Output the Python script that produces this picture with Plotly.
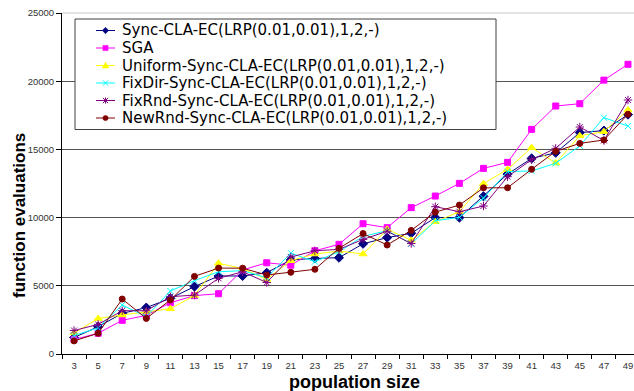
import plotly.graph_objects as go

# ---------------- data ----------------
population_size = ["3", "5", "7", "9", "11", "13", "15", "17", "19", "21", "23", "25",
                   "27", "29", "31", "33", "35", "37", "39", "41", "43", "45", "47", "49"]

sync_cla_ec = [1210, 2000, 2980, 3400, 4080, 4940, 5720, 5720, 5960, 6900, 7010, 7060,
               8080, 8530, 8850, 10000, 10000, 11560, 13190, 14340, 14750, 16230, 16380, 17550]
sga = [1060, 1520, 2470, 2830, 3760, 4280, 4420, 6160, 6690, 6510, 7570, 8040,
       9550, 9260, 10730, 11580, 12510, 13610, 14050, 16470, 18180, 18350, 20080, 21240]
uniform_sync = [1540, 2600, 2860, 3080, 3320, 4280, 6650, 6260, 5470, 6840, 7330, 7550,
                7330, 9140, 8340, 9700, 10430, 12490, 13540, 15130, 14000, 16000, 16300, 17890]
fixdir_sync = [1350, 1920, 3590, 2740, 4620, 5380, 6030, 6110, 5590, 7400, 6770, 7500,
               8620, 9040, 8080, 9770, 10020, 11430, 13370, 13420, 13980, 15260, 17330, 16710]
fixrnd_sync = [1720, 2170, 3170, 3170, 4200, 4320, 5550, 6030, 5240, 7110, 7570, 7670,
               8400, 9000, 8100, 10800, 10430, 10850, 13000, 14250, 15080, 16640, 15650, 18620]
newrnd_sync = [960, 1520, 4030, 2610, 3960, 5690, 6300, 6290, 5790, 5990, 6210, 7750,
               8830, 7990, 9060, 10400, 10920, 12180, 12190, 13540, 14860, 15440, 15690, 17580]

series_names = [
    "Sync-CLA-EC(LRP(0.01,0.01),1,2,-)",
    "SGA",
    "Uniform-Sync-CLA-EC(LRP(0.01,0.01),1,2,-)",
    "FixDir-Sync-CLA-EC(LRP(0.01,0.01),1,2,-)",
    "FixRnd-Sync-CLA-EC(LRP(0.01,0.01),1,2,-)",
    "NewRnd-Sync-CLA-EC(LRP(0.01,0.01),1,2,-)",
]
series_values = [sync_cla_ec, sga, uniform_sync, fixdir_sync, fixrnd_sync, newrnd_sync]
x_title = "population size"
y_title = "function evaluations"

# ---------------- styles ----------------
colors = ["#000080", "#FF00FF", "#FFFF00", "#00FFFF", "#800080", "#800000"]
symbols = ["diamond", "square", "triangle-up", "x-thin-open", "asterisk-open", "circle"]
sizes = [7, 6, 7, 6, 7, 6]

FONT = "Liberation Sans, Arial, sans-serif"
LEG_FONT = "DejaVu Sans, Liberation Sans, sans-serif"
W, H = 634, 391
ML, MR, MT, MB = 62, 0, 13, 37

fig = go.Figure()
for name, vals, c, s, sz in zip(series_names, series_values, colors, symbols, sizes):
    fig.add_trace(go.Scatter(
        x=population_size, y=vals, name=name, mode="lines+markers",
        line=dict(color=c, width=1),
        marker=dict(symbol=s, size=sz, color=c, line=dict(color=c, width=1)),
        showlegend=False, hoverinfo="skip",
    ))

# ---------------- custom legend (pixel layout -> paper coords) ----------------
def px(x):
    return (x - ML) / (W - ML - MR)

def py(y):
    return (H - MB - y) / (H - MB - MT)

row0, row_gap = 30.5, 17.5
leg_top, leg_bottom = 19, 19 + 2 * (row0 - 19) + 5 * row_gap

shapes = []
annotations = []
# light plot-area top border
shapes.append(dict(type="line", xref="paper", yref="paper", x0=0, x1=1, y0=1, y1=1,
                   line=dict(color="#c8c8c8", width=1), layer="above"))
shapes.append(dict(type="rect", xref="paper", yref="paper",
                   x0=px(75), x1=px(496), y0=py(leg_top), y1=py(leg_bottom),
                   line=dict(color="#404040", width=1), fillcolor="white", layer="above"))

for i, (name, c, s) in enumerate(zip(series_names, colors, symbols)):
    yc = row0 + row_gap * i
    shapes.append(dict(type="line", xref="paper", yref="paper",
                       x0=px(96), x1=px(115), y0=py(yc), y1=py(yc),
                       line=dict(color=c, width=1), layer="above"))
    cx = 105.5
    r = 2.6
    if s == "diamond":
        path = (f"M {px(cx)},{py(yc - 3.2)} L {px(cx + 3.2)},{py(yc)} "
                f"L {px(cx)},{py(yc + 3.2)} L {px(cx - 3.2)},{py(yc)} Z")
        shapes.append(dict(type="path", xref="paper", yref="paper", path=path,
                           fillcolor=c, line=dict(color=c, width=0.5), layer="above"))
    elif s == "square":
        shapes.append(dict(type="rect", xref="paper", yref="paper",
                           x0=px(cx - r), x1=px(cx + r), y0=py(yc - r), y1=py(yc + r),
                           fillcolor=c, line=dict(color=c, width=0.5), layer="above"))
    elif s == "triangle-up":
        path = (f"M {px(cx)},{py(yc - 3.2)} L {px(cx + 3.3)},{py(yc + 2.6)} "
                f"L {px(cx - 3.3)},{py(yc + 2.6)} Z")
        shapes.append(dict(type="path", xref="paper", yref="paper", path=path,
                           fillcolor=c, line=dict(color=c, width=0.5), layer="above"))
    elif s == "x-thin-open":
        path = (f"M {px(cx - r)},{py(yc - r)} L {px(cx + r)},{py(yc + r)} "
                f"M {px(cx - r)},{py(yc + r)} L {px(cx + r)},{py(yc - r)}")
        shapes.append(dict(type="path", xref="paper", yref="paper", path=path,
                           line=dict(color=c, width=1), layer="above"))
    elif s == "asterisk-open":
        path = (f"M {px(cx - r)},{py(yc - r)} L {px(cx + r)},{py(yc + r)} "
                f"M {px(cx - r)},{py(yc + r)} L {px(cx + r)},{py(yc - r)} "
                f"M {px(cx)},{py(yc - 3)} L {px(cx)},{py(yc + 3)}")
        shapes.append(dict(type="path", xref="paper", yref="paper", path=path,
                           line=dict(color=c, width=1), layer="above"))
    else:
        shapes.append(dict(type="circle", xref="paper", yref="paper",
                           x0=px(cx - r), x1=px(cx + r), y0=py(yc - r), y1=py(yc + r),
                           fillcolor=c, line=dict(color=c, width=0.5), layer="above"))
    annotations.append(dict(xref="paper", yref="paper", x=px(121), y=py(yc),
                            xanchor="left", yanchor="middle", showarrow=False, borderpad=0,
                            text=name, font=dict(family=LEG_FONT, size=15, color="black")))

# axis titles (positioned like the original, which is off-centre)
annotations.append(dict(xref="paper", yref="paper", x=px(355), y=py(382),
                        xanchor="center", yanchor="middle", showarrow=False,
                        text=f"<b>{x_title}</b>", font=dict(family=FONT, size=18, color="black")))
annotations.append(dict(xref="paper", yref="paper", x=px(19.5), y=py(215.5),
                        xanchor="center", yanchor="middle", showarrow=False, textangle=-90,
                        text=f"<b>{y_title}</b>", font=dict(family=FONT, size=17, color="black")))

fig.update_layout(
    width=W, height=H,
    margin=dict(l=ML, r=MR, t=MT, b=MB, pad=0),
    paper_bgcolor="white", plot_bgcolor="white",
    font=dict(family=FONT, color="black"),
    shapes=shapes, annotations=annotations,
    showlegend=False,
    xaxis=dict(
        type="category", categoryorder="array", categoryarray=population_size,
        range=[-0.5, 23.25], tickson="boundaries", ticks="outside", ticklen=4,
        tickcolor="black", showline=True, linecolor="black", linewidth=1,
        showgrid=False, tickfont=dict(size=9.5, color="#333"), ticklabelstandoff=3,
        automargin=False,
    ),
    yaxis=dict(
        range=[0, 25000], dtick=5000, tickformat="d", ticks="outside", ticklen=5,
        tickcolor="black", showline=True, linecolor="black", linewidth=1,
        showgrid=True, gridcolor="#555555", gridwidth=1, zeroline=False,
        tickfont=dict(size=9.5, color="#333"),
        automargin=False,
    ),
)

fig.write_html("out.html", config={"displayModeBar": False},
               post_script="document.body.style.margin='0px';")
